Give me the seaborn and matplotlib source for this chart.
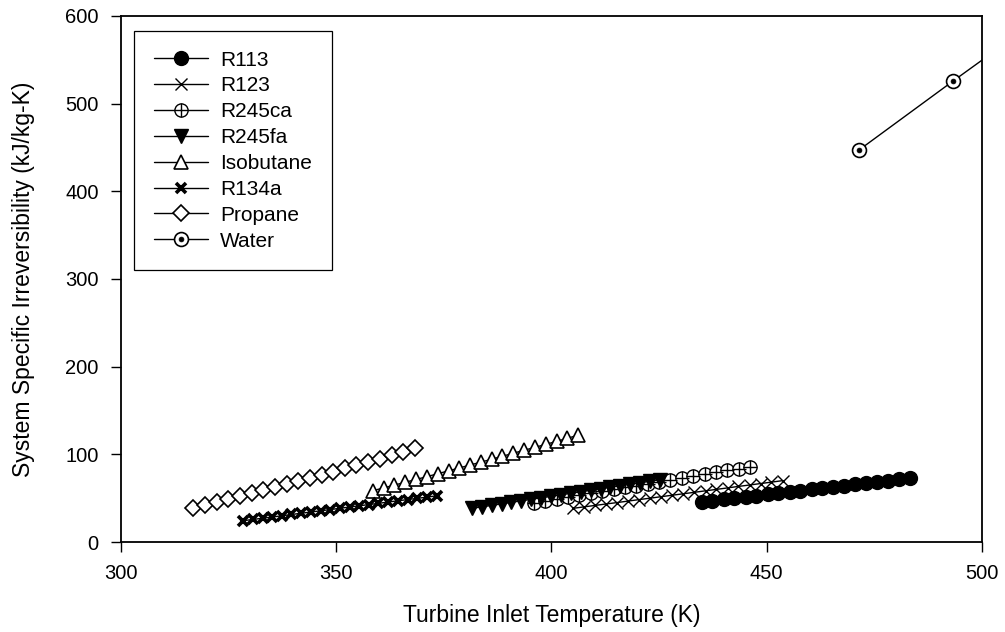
import matplotlib
matplotlib.use("Agg")
import matplotlib.pyplot as plt
import seaborn as sns
import pandas as pd
from matplotlib.lines import Line2D
from matplotlib.legend_handler import HandlerTuple

# ---- data ----
r113_t = [434.9, 437.4, 440.0, 442.5, 445.1, 447.6, 450.2, 452.7, 455.3, 457.8,
          460.4, 462.9, 465.5, 468.0, 470.6, 473.1, 475.7, 478.2, 480.8, 483.3]
r113_v = [45.9, 47.3, 48.8, 50.2, 51.6, 53.0, 54.5, 55.9, 57.3, 58.7,
          60.2, 61.6, 63.0, 64.4, 65.8, 67.3, 68.7, 70.1, 71.6, 73.0]

r123_t = [405.0, 407.6, 410.1, 412.7, 415.3, 417.8, 420.4, 422.9, 425.5, 428.1,
          430.6, 433.2, 435.8, 438.3, 440.9, 443.4, 446.0, 448.6, 451.1, 453.7]
r123_v = [38.4, 40.1, 41.7, 43.4, 45.0, 46.7, 48.4, 50.0, 51.7, 53.4,
          55.0, 56.7, 58.4, 60.0, 61.7, 63.4, 65.0, 66.7, 68.3, 70.0]

r245ca_t = [396.0, 398.6, 401.3, 403.9, 406.5, 409.2, 411.8, 414.5, 417.1, 419.7,
            422.4, 425.0, 427.6, 430.3, 432.9, 435.6, 438.2, 440.8, 443.5, 446.1]
r245ca_v = [45.0, 47.2, 49.3, 51.5, 53.6, 55.8, 57.9, 60.1, 62.3, 64.4,
            66.6, 68.7, 70.9, 73.1, 75.2, 77.4, 79.5, 81.7, 83.8, 86.0]

r245fa_t = [381.5, 383.8, 386.1, 388.4, 390.7, 393.0, 395.3, 397.6, 399.9, 402.2,
            404.5, 406.8, 409.1, 411.4, 413.7, 416.0, 418.3, 420.6, 422.9, 425.2]
r245fa_v = [38.4, 40.1, 41.8, 43.5, 45.3, 47.0, 48.7, 50.4, 52.1, 53.8,
            55.6, 57.3, 59.0, 60.7, 62.5, 64.2, 65.9, 67.6, 69.3, 71.0]

isobutane_t = [358.5, 361.0, 363.5, 366.0, 368.5, 371.1, 373.6, 376.1, 378.6, 381.1,
               383.6, 386.1, 388.6, 391.1, 393.6, 396.2, 398.7, 401.2, 403.7, 406.2]
isobutane_v = [58.5, 61.7, 64.9, 68.1, 71.3, 74.6, 77.9, 81.2, 84.5, 87.8,
               91.1, 94.4, 97.8, 101.2, 104.6, 108.0, 111.4, 114.8, 118.3, 121.9]

r134a_t = [328.4, 330.6, 332.9, 335.1, 337.4, 339.6, 341.9, 344.1, 346.4, 348.6,
           350.9, 353.1, 355.3, 357.6, 359.8, 362.1, 364.3, 366.6, 368.8, 371.1, 373.3]
r134a_v = [24.3, 25.7, 27.1, 28.5, 29.9, 31.4, 32.8, 34.2, 35.6, 37.0,
           38.5, 39.9, 41.3, 42.7, 44.1, 45.6, 47.0, 48.4, 49.8, 51.2, 52.7]

propane_t = [316.8, 319.5, 322.2, 324.9, 327.6, 330.4, 333.1, 335.8, 338.5, 341.2,
             343.9, 346.6, 349.3, 352.0, 354.7, 357.4, 360.2, 362.9, 365.6, 368.3]
propane_v = [38.4, 41.8, 45.2, 48.6, 52.1, 55.6, 59.1, 62.6, 66.1, 69.6,
             73.2, 76.8, 80.4, 84.0, 87.6, 91.3, 95.0, 98.9, 102.8, 106.7]

water_t = [471.4, 493.2, 514.5]
water_v = [447.0, 525.5, 601.0]

x_ticks = [300, 350, 400, 450, 500]
y_ticks = [0, 100, 200, 300, 400, 500, 600]
x_label = "Turbine Inlet Temperature (K)"
y_label = "System Specific Irreversibility (kJ/kg-K)"

# ---- style ----
sns.set_theme(style="white")
plt.rcParams['font.family'] = ['Liberation Sans', 'DejaVu Sans']
plt.rcParams['text.color'] = 'black'
plt.rcParams['axes.labelcolor'] = 'black'

fig = plt.figure(figsize=(10.05, 6.32), dpi=100)
ax = fig.add_axes([0.1204, 0.1424, 0.8567, 0.8323])

series = [
    ("R113", r113_t, r113_v),
    ("R123", r123_t, r123_v),
    ("R245ca", r245ca_t, r245ca_v),
    ("R245fa", r245fa_t, r245fa_v),
    ("Isobutane", isobutane_t, isobutane_v),
    ("R134a", r134a_t, r134a_v),
    ("Propane", propane_t, propane_v),
    ("Water", water_t, water_v),
]

styles = {
    "R113": dict(marker="o", ms=10, mfc="black", mew=1.0),
    "R123": dict(marker="x", ms=9, mfc="black", mew=1.0),
    "R245ca": dict(marker="o", ms=9.5, mfc="white", mew=1.0),
    "R245fa": dict(marker="v", ms=10, mfc="black", mew=1.0),
    "Isobutane": dict(marker="^", ms=10, mfc="white", mew=1.2),
    "R134a": dict(marker="x", ms=6.5, mfc="black", mew=2.6),
    "Propane": dict(marker="D", ms=8.2, mfc="white", mew=1.2),
    "Water": dict(marker="o", ms=10, mfc="white", mew=1.2),
}
overlay = {
    "R245ca": dict(marker="+", ms=9.5, mew=1.0),
    "Water": dict(marker="o", ms=3.5, mfc="black", mew=0.5),
}

handles = []
for z, (name, t, v) in enumerate(series):
    df = pd.DataFrame({"T": t, "I": v})
    st = styles[name]
    sns.lineplot(data=df, x="T", y="I", ax=ax, color="black", lw=1.0,
                 marker=st["marker"], markersize=st["ms"],
                 markerfacecolor=st["mfc"], markeredgecolor="black",
                 markeredgewidth=st["mew"], estimator=None, sort=False,
                 zorder=2 + z)
    h = Line2D([], [], color="black", lw=1.0, marker=st["marker"],
               markersize=st["ms"], markerfacecolor=st["mfc"],
               markeredgecolor="black", markeredgewidth=st["mew"])
    if name in overlay:
        o = overlay[name]
        sns.scatterplot(data=df, x="T", y="I", ax=ax, marker=o["marker"],
                        s=o["ms"] ** 2, color="black", edgecolor="black",
                        linewidth=o["mew"], zorder=2 + z + 0.5)
        h2 = Line2D([], [], ls="none", marker=o["marker"], markersize=o["ms"],
                    markerfacecolor="black", markeredgecolor="black",
                    markeredgewidth=o["mew"])
        h = (h, h2)
    handles.append(h)

ax.set_xlim(300, 500)
ax.set_ylim(0, 600)
ax.set_xticks(x_ticks)
ax.set_yticks(y_ticks)
ax.set_xlabel(x_label, fontsize=16.5, labelpad=15, color="black")
ax.set_ylabel(y_label, fontsize=16.5, labelpad=22, color="black")
ax.tick_params(axis="both", direction="out", length=7, width=1.0,
               labelsize=14.5, color="black", labelcolor="black",
               bottom=True, left=True, pad=9)
for sp in ax.spines.values():
    sp.set_visible(True)
    sp.set_color("black")
    sp.set_linewidth(1.3)

leg = ax.legend(handles, [s[0] for s in series],
                handler_map={tuple: HandlerTuple(ndivide=1, pad=0)},
                loc="upper left", bbox_to_anchor=(0.015, 0.972),
                borderaxespad=0,
                fontsize=15, handlelength=2.6, handletextpad=0.6,
                labelspacing=0.33, borderpad=0.95, frameon=True,
                fancybox=False, edgecolor="black", framealpha=1)
leg.get_frame().set_linewidth(0.9)
for txt in leg.get_texts():
    txt.set_color("black")

fig.savefig("out.png", dpi=100)
